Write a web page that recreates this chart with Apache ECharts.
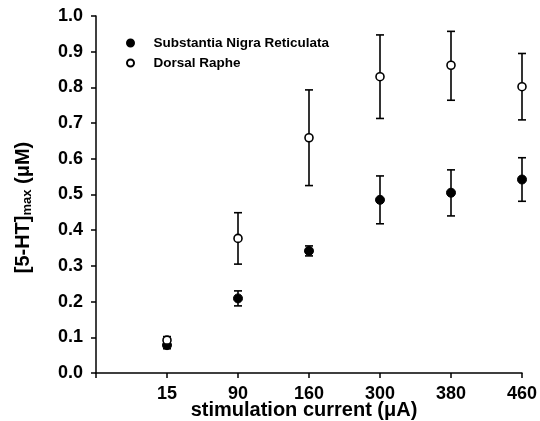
<!DOCTYPE html>
<html>
<head>
<meta charset="utf-8">
<script src="https://cdn.jsdelivr.net/npm/echarts@6/dist/echarts.min.js"></script>
<style>
  html, body { margin: 0; padding: 0; background: #fff; }
  #chart { width: 540px; height: 421px; }
</style>
</head>
<body>
<div id="chart"></div>
<script>
// stimulation current categories (uA)
var categories = ["15", "90", "160", "300", "380", "460"];

// Substantia Nigra Reticulata (filled)
var snrMean = [0.078, 0.209, 0.342, 0.485, 0.505, 0.542];
var snrLow  = [0.068, 0.188, 0.328, 0.418, 0.440, 0.481];
var snrHigh = [0.088, 0.230, 0.356, 0.552, 0.569, 0.603];

// Dorsal Raphe (open)
var drMean = [0.092, 0.377, 0.659, 0.830, 0.862, 0.802];
var drLow  = [0.082, 0.305, 0.525, 0.713, 0.764, 0.709];
var drHigh = [0.102, 0.449, 0.793, 0.947, 0.957, 0.895];

var yTicks = [0, 0.1, 0.2, 0.3, 0.4, 0.5, 0.6, 0.7, 0.8, 0.9, 1.0];

var font = "Liberation Sans, Arial, sans-serif";

function pts(mean) {
  return mean.map(function (v, i) { return [i + 1, v]; });
}
function bars(low, high) {
  return low.map(function (v, i) { return [i + 1, v, high[i]]; });
}

function errorBar(params, api) {
  var lo = api.coord([api.value(0), api.value(1)]);
  var hi = api.coord([api.value(0), api.value(2)]);
  var cap = 4;
  var st = { stroke: "#000", lineWidth: 1.6 };
  return {
    type: "group",
    children: [
      { type: "line", shape: { x1: lo[0], y1: lo[1], x2: hi[0], y2: hi[1] }, style: st },
      { type: "line", shape: { x1: lo[0] - cap, y1: lo[1], x2: lo[0] + cap, y2: lo[1] }, style: st },
      { type: "line", shape: { x1: hi[0] - cap, y1: hi[1], x2: hi[0] + cap, y2: hi[1] }, style: st }
    ]
  };
}

var myChart = echarts.init(document.getElementById("chart"));

var option = {
  animation: false,
  grid: { left: 96, right: 18, top: 16, bottom: 48, outerBoundsMode: "none", containLabel: false },
  legend: {
    orient: "vertical",
    left: 121,
    top: 31,
    icon: "circle",
    itemWidth: 36,
    itemHeight: 7,
    itemGap: 6,
    data: ["Substantia Nigra Reticulata", "Dorsal Raphe"],
    textStyle: { fontFamily: font, fontWeight: "bold", fontSize: 13.5, color: "#000" }
  },
  xAxis: {
    type: "value",
    min: 0,
    max: 6,
    interval: 1,
    name: "stimulation current (μA)",
    nameLocation: "middle",
    nameGap: 27,
    nameMoveOverlap: false,
    nameTextStyle: { fontFamily: font, fontWeight: "bold", fontSize: 20, color: "#000", padding: [0, 10, 0, 0] },
    axisLine: { lineStyle: { color: "#000", width: 1.5 } },
    axisTick: { length: 5, lineStyle: { color: "#000", width: 1.5 } },
    axisLabel: {
      fontFamily: font, fontWeight: "bold", fontSize: 18, color: "#000", margin: 12,
      formatter: function (v) { return v >= 1 ? categories[v - 1] : ""; }
    },
    splitLine: { show: false }
  },
  yAxis: {
    type: "value",
    min: 0,
    max: 1,
    interval: 0.1,
    name: "[5-HT]{sub|max} (μM)",
    nameLocation: "middle",
    nameGap: 62,
    nameRotate: 90,
    nameMoveOverlap: false,
    nameTextStyle: {
      fontFamily: font, fontWeight: "bold", fontSize: 20, color: "#000",
      padding: [0, 26, 0, 0],
      rich: {
        sub: { fontFamily: font, fontWeight: "bold", fontSize: 13, color: "#000", verticalAlign: "bottom", padding: [9, 0, 0, 0] }
      }
    },
    axisLine: { show: true, lineStyle: { color: "#000", width: 1.5 } },
    axisTick: { show: true, length: 5, lineStyle: { color: "#000", width: 1.5 } },
    axisLabel: {
      fontFamily: font, fontWeight: "bold", fontSize: 18, color: "#000", margin: 13,
      formatter: function (v) {
        var t = yTicks.filter(function (x) { return Math.abs(x - v) < 1e-6; })[0];
        return t !== undefined ? t.toFixed(1) : "";
      }
    },
    splitLine: { show: false }
  },
  series: [
    {
      type: "custom",
      renderItem: errorBar,
      data: bars(drLow, drHigh),
      z: 1
    },
    {
      type: "custom",
      renderItem: errorBar,
      data: bars(snrLow, snrHigh),
      z: 1
    },
    {
      name: "Substantia Nigra Reticulata",
      type: "scatter",
      symbol: "circle",
      symbolSize: 9,
      data: pts(snrMean),
      itemStyle: { color: "#000", borderColor: "#000", borderWidth: 1, opacity: 1 },
      z: 3
    },
    {
      name: "Dorsal Raphe",
      type: "scatter",
      symbol: "circle",
      symbolSize: 8,
      data: pts(drMean),
      itemStyle: { color: "#fff", borderColor: "#000", borderWidth: 1.6, opacity: 1 },
      z: 3
    }
  ]
};

myChart.setOption(option);
</script>
</body>
</html>
